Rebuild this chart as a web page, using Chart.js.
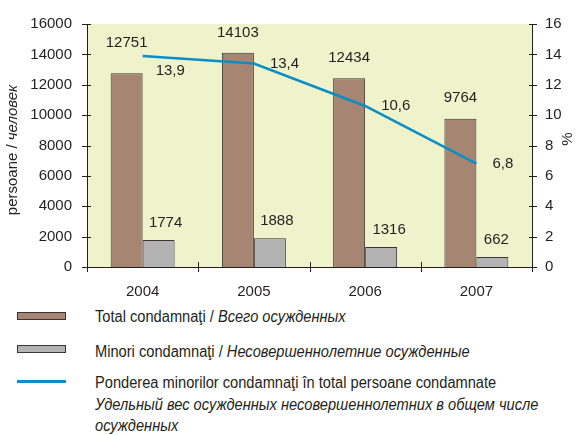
<!DOCTYPE html>
<html>
<head>
<meta charset="utf-8">
<script src="https://cdn.jsdelivr.net/npm/chart.js@4"></script>
<style>
  html, body { margin: 0; padding: 0; background: #ffffff; }
  #wrap { position: relative; width: 577px; height: 435px; font-family: "Liberation Sans", Arial, sans-serif; color: #231f20; }
  #box { position: absolute; left: 0; top: 0; width: 577px; height: 300px; }
  .sw { position: absolute; left: 17px; width: 47px; height: 6px; border: 1px solid #3b3536; }
  .ln { position: absolute; left: 17px; width: 49px; height: 3px; background: #0b8dc6; }
  .tx { position: absolute; left: 95px; font-size: 16px; line-height: 21.7px; white-space: nowrap; transform: scaleX(0.915); transform-origin: 0 0; }
  .tx i { font-style: italic; }
</style>
</head>
<body>
<div id="wrap">
  <div id="box"><canvas id="chart"></canvas></div>

  <div class="sw" style="top:312px;background:#a68672;"></div>
  <div class="tx" style="top:306px;">Total condamnaţi / <i>Всего осужденных</i></div>

  <div class="sw" style="top:345px;background:#b3b3b3;"></div>
  <div class="tx" style="top:341px;">Minori condamnaţi / <i>Несовершеннолетние осужденные</i></div>

  <div class="ln" style="top:380px;"></div>
  <div class="tx" style="top:372px;">Ponderea minorilor condamnaţi în total persoane condamnate<br><i>Удельный вес осужденных несовершеннолетних в общем числе<br>осужденных</i></div>
</div>

<script>
// values
const years = ['2004', '2005', '2006', '2007'];
const totalConvicted = [12751, 14103, 12434, 9764];
const minorsConvicted = [1774, 1888, 1316, 662];
const minorsShare = [13.9, 13.4, 10.6, 6.8];

const leftTicks = [0, 2000, 4000, 6000, 8000, 10000, 12000, 14000, 16000];
const rightTicks = [0, 2, 4, 6, 8, 10, 12, 14, 16];

const INK = '#231f20';
const FONT = '"Liberation Sans", Arial, sans-serif';

// plot background + crossing tick marks + labels, drawn by hand
const decor = {
    id: 'decor',
    beforeDraw(chart) {
        const a = chart.chartArea, c = chart.ctx;
        c.save();
        c.fillStyle = '#eef3cb';
        c.fillRect(a.left, a.top, a.right - a.left, a.bottom - a.top);
        c.restore();
    },
    afterDatasetsDraw(chart) {
        const c = chart.ctx, a = chart.chartArea;
        const y = chart.scales.y, y1 = chart.scales.y1, x = chart.scales.x;
        c.save();
        c.strokeStyle = INK;
        c.lineWidth = 1;
        c.beginPath();
        // axis lines
        c.moveTo(a.left + 0.5, a.top); c.lineTo(a.left + 0.5, a.bottom);
        c.moveTo(a.right + 0.5, a.top); c.lineTo(a.right + 0.5, a.bottom);
        c.moveTo(a.left, a.bottom + 0.5); c.lineTo(a.right, a.bottom + 0.5);
        y.ticks.forEach(t => {
            const py = Math.round(y.getPixelForValue(t.value)) + 0.5;
            c.moveTo(a.left - 5, py); c.lineTo(a.left + 4, py);
        });
        y1.ticks.forEach(t => {
            const py = Math.round(y1.getPixelForValue(t.value)) + 0.5;
            c.moveTo(a.right - 3, py); c.lineTo(a.right + 5, py);
        });
        const step = x.getPixelForValue(1) - x.getPixelForValue(0);
        for (let i = 0; i <= years.length; i++) {
            const px = Math.round(x.getPixelForValue(i) - step / 2) + 0.5;
            c.moveTo(px, a.bottom - 5); c.lineTo(px, a.bottom + 5);
        }
        c.stroke();

        // value labels
        c.fillStyle = INK;
        c.font = '15px ' + FONT;
        c.textBaseline = 'middle';
        c.textAlign = 'center';
        const totLift = [30, 20, 20, 21];
        chart.getDatasetMeta(0).data.forEach((bar, i) => {
            c.fillText(String(totalConvicted[i]), bar.x, bar.y - totLift[i]);
        });
        const minShift = [7, 7, 8, 4];
        chart.getDatasetMeta(1).data.forEach((bar, i) => {
            c.fillText(String(minorsConvicted[i]), bar.x + minShift[i], bar.y - 17);
        });
        c.textAlign = 'left';
        const lineDx = [13, 16, 16, 16], lineDy = [15, 0, 0, 0];
        chart.getDatasetMeta(2).data.forEach((pt, i) => {
            c.fillText(minorsShare[i].toFixed(1).replace('.', ','), pt.x + lineDx[i], pt.y + lineDy[i]);
        });

        // axis titles
        c.save();
        c.translate(13, 150);
        c.rotate(-Math.PI / 2);
        const p1 = 'persoane / ', p2 = 'человек';
        c.font = '15px ' + FONT;
        const w1 = c.measureText(p1).width;
        c.font = 'italic 15px ' + FONT;
        const w2 = c.measureText(p2).width;
        c.font = '15px ' + FONT;
        c.fillText(p1, -(w1 + w2) / 2, 0);
        c.font = 'italic 15px ' + FONT;
        c.fillText(p2, -(w1 + w2) / 2 + w1, 0);
        c.restore();

        c.save();
        c.translate(568, 139);
        c.rotate(-Math.PI / 2);
        c.font = '15px ' + FONT;
        c.textAlign = 'center';
        c.fillText('%', 0, 0);
        c.restore();
        c.restore();
    }
};

new Chart(document.getElementById('chart'), {
    type: 'bar',
    data: {
        labels: years,
        datasets: [
            {
                label: 'Total condamnaţi',
                data: totalConvicted,
                backgroundColor: '#a68672',
                borderColor: '#3b3536',
                borderWidth: 1,
                yAxisID: 'y',
                order: 2
            },
            {
                label: 'Minori condamnaţi',
                data: minorsConvicted,
                backgroundColor: '#b3b3b3',
                borderColor: '#3b3536',
                borderWidth: 1,
                yAxisID: 'y',
                order: 2
            },
            {
                type: 'line',
                label: 'Ponderea minorilor condamnaţi',
                data: minorsShare,
                borderColor: '#0b8dc6',
                borderWidth: 2.5,
                pointRadius: 0,
                tension: 0,
                fill: false,
                yAxisID: 'y1',
                order: 1
            }
        ]
    },
    options: {
        responsive: true,
        maintainAspectRatio: false,
        animation: false,
        layout: { padding: { top: 17, left: 0, right: 0, bottom: 0 } },
        plugins: {
            legend: { display: false },
            tooltip: { enabled: false }
        },
        datasets: {
            bar: { categoryPercentage: 0.575, barPercentage: 1 }
        },
        scales: {
            x: {
                grid: { display: false, drawTicks: false },
                border: { display: false },
                ticks: { color: INK, font: { family: FONT, size: 15 }, padding: 16 },
                afterFit: s => { s.height = 33; }
            },
            y: {
                position: 'left',
                min: 0, max: 16000,
                afterBuildTicks: s => { s.ticks = leftTicks.map(v => ({ value: v })); },
                grid: { display: false, drawTicks: false },
                border: { display: false },
                ticks: { color: INK, font: { family: FONT, size: 15 }, padding: 15, callback: v => String(v) },
                afterFit: s => { s.width = 87; }
            },
            y1: {
                position: 'right',
                min: 0, max: 16,
                afterBuildTicks: s => { s.ticks = rightTicks.map(v => ({ value: v })); },
                grid: { display: false, drawTicks: false },
                border: { display: false },
                ticks: { color: INK, font: { family: FONT, size: 15 }, padding: 13, callback: v => String(v) },
                afterFit: s => { s.width = 45; }
            }
        }
    },
    plugins: [decor]
});
</script>
</body>
</html>
